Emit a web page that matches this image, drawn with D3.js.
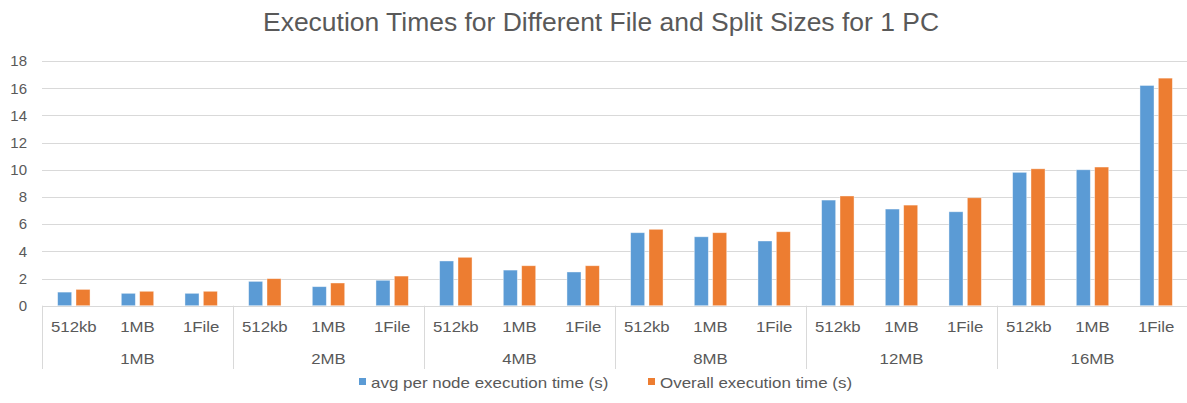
<!DOCTYPE html>
<html>
<head>
<meta charset="utf-8">
<script src="https://cdn.jsdelivr.net/npm/d3@7"></script>
<style>
  html, body { margin: 0; padding: 0; background: #fff; }
  svg { display: block; font-family: "Liberation Sans", Arial, sans-serif; }
</style>
</head>
<body>
<svg id="chart" width="1187" height="403"></svg>
<script>
// File sizes (outer groups) and split sizes (inner categories)
const fileSizes = ["1MB", "2MB", "4MB", "8MB", "12MB", "16MB"];
const splitSizes = ["512kb", "1MB", "1File"];
const seriesNames = ["avg per node execution time (s)", "Overall execution time (s)"];
// Values listed per file size, in split-size order
const avgPerNode = [1.0, 0.91, 0.91, 1.79, 1.40, 1.87, 3.29, 2.62, 2.48, 5.37, 5.07, 4.76, 7.77, 7.11, 6.91, 9.81, 10.0, 16.2];
const overall    = [1.2, 1.06, 1.06, 1.99, 1.67, 2.18, 3.56, 2.94, 2.94, 5.62, 5.37, 5.44, 8.07, 7.40, 7.94, 10.07, 10.2, 16.74];
const yTicks = [0, 2, 4, 6, 8, 10, 12, 14, 16, 18];
const colors = ["#5B9BD5", "#ED7D31"];

const svg = d3.select("#chart");
const plotLeft = 42, plotRight = 1188, plotTop = 61, plotBottom = 305.7;
const textColor = "#595959";
const widen = 1.12; // horizontal stretch of the axis and legend lettering

const rows = [];
fileSizes.forEach((f, gi) => splitSizes.forEach((s, si) => {
  const i = gi * splitSizes.length + si;
  rows.push({ key: f + "|" + s, file: f, split: s, values: [avgPerNode[i], overall[i]] });
}));

const x = d3.scaleBand().domain(rows.map(d => d.key)).range([plotLeft, plotRight]).paddingInner(0).paddingOuter(0);
const xGroup = d3.scaleBand().domain(fileSizes).range([plotLeft, plotRight]);
const xSeries = d3.scaleBand().domain([0, 1])
  .range([x.bandwidth() / 2 - 16.2, x.bandwidth() / 2 + 16.2]).paddingInner(0.235);
const y = d3.scaleLinear().domain([0, 18]).range([plotBottom, plotTop]);

// Title
svg.append("text")
  .attr("x", 601).attr("y", 31)
  .attr("text-anchor", "middle")
  .attr("fill", textColor)
  .attr("textLength", 676).attr("lengthAdjust", "spacingAndGlyphs")
  .style("font-size", "25px")
  .text("Execution Times for Different File and Split Sizes for 1 PC");

// Gridlines
svg.append("g").selectAll("line").data(yTicks.filter(t => t > 0)).join("line")
  .attr("x1", plotLeft).attr("x2", plotRight)
  .attr("y1", d => Math.round(y(d)) + 0.5).attr("y2", d => Math.round(y(d)) + 0.5)
  .attr("stroke", "#D9D9D9").attr("stroke-width", 1);

// Y axis labels
const yAxis = d3.axisLeft(y).tickValues(yTicks).tickSize(0).tickPadding(0);
const yg = svg.append("g").attr("transform", `translate(${plotLeft - 15},0)`).call(yAxis);
yg.select(".domain").remove();
yg.selectAll("text").attr("fill", textColor).style("font-size", "15px")
  .style("font-family", "'Liberation Sans', Arial, sans-serif");

// Bars
const groups = svg.append("g").selectAll("g").data(rows).join("g")
  .attr("transform", d => `translate(${x(d.key)},0)`);
groups.selectAll("rect").data(d => d.values.map((v, i) => ({ v, i }))).join("rect")
  .attr("x", d => xSeries(d.i))
  .attr("width", xSeries.bandwidth())
  .attr("y", d => y(d.v))
  .attr("height", d => y(0) - y(d.v))
  .attr("fill", d => colors[d.i])
  .attr("stroke", "#ffffff").attr("stroke-opacity", 0.5).attr("stroke-width", 0.8);

// Category axis line
svg.append("line")
  .attr("x1", plotLeft).attr("x2", plotRight)
  .attr("y1", Math.round(plotBottom) + 0.5).attr("y2", Math.round(plotBottom) + 0.5)
  .attr("stroke", "#D9D9D9");

// Group separators
const seps = fileSizes.map(f => xGroup(f));
svg.append("g").selectAll("line").data(seps).join("line")
  .attr("x1", d => Math.round(d) + 0.5).attr("x2", d => Math.round(d) + 0.5)
  .attr("y1", plotBottom).attr("y2", 369)
  .attr("stroke", "#D9D9D9");

// Split-size labels
svg.append("g").selectAll("text").data(rows).join("text")
  .attr("transform", d => `translate(${x(d.key) + x.bandwidth() / 2},332) scale(${widen},1)`)
  .attr("text-anchor", "middle")
  .attr("fill", textColor).style("font-size", "15px")
  .text(d => d.split);

// File-size labels
svg.append("g").selectAll("text").data(fileSizes).join("text")
  .attr("transform", d => `translate(${xGroup(d) + xGroup.bandwidth() / 2},364) scale(${widen},1)`)
  .attr("text-anchor", "middle")
  .attr("fill", textColor).style("font-size", "15px")
  .text(d => d);

// Legend
const legendX = [359, 648];
const lg = svg.append("g").selectAll("g").data(seriesNames).join("g")
  .attr("transform", (d, i) => `translate(${legendX[i]},383)`);
lg.append("rect").attr("x", 0).attr("y", -5).attr("width", 7).attr("height", 7)
  .attr("fill", (d, i) => colors[i]);
lg.append("text")
  .attr("transform", `translate(12,5) scale(1.13,1)`)
  .attr("fill", textColor).style("font-size", "15px")
  .text(d => d);
</script>
</body>
</html>
